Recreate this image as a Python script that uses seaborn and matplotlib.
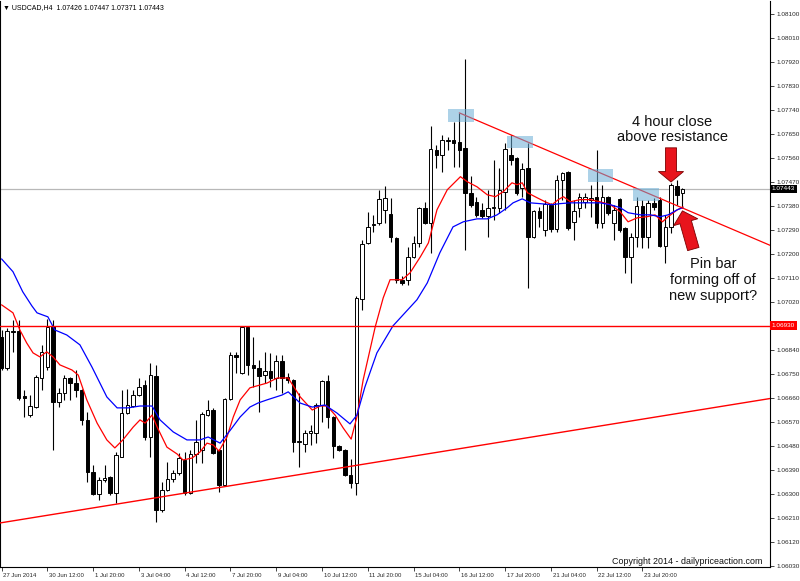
import numpy as np
import matplotlib
matplotlib.use("Agg")
import matplotlib.pyplot as plt
import matplotlib.transforms as mtransforms
from matplotlib.patches import Rectangle
import seaborn as sns

# USDCAD H4 candles, 27 Jun 2014 - 25 Jul 2014 (bar index 0..119)
opens = [
    1.06889, 1.06773, 1.06911, 1.06911, 1.06668, 1.06596, 1.06626, 1.06735, 1.06776, 1.06930,
    1.06645, 1.06679, 1.06735, 1.06716, 1.06690, 1.06578, 1.06383, 1.06300, 1.06353, 1.06364,
    1.06304, 1.06439, 1.06604, 1.06630, 1.06671, 1.06709, 1.06514, 1.06743, 1.06240, 1.06315,
    1.06356, 1.06379, 1.06428, 1.06304, 1.06450, 1.06465, 1.06596, 1.06615, 1.06465, 1.06334,
    1.06656, 1.06821, 1.06754, 1.06926, 1.06784, 1.06773, 1.06746, 1.06761, 1.06735, 1.06799,
    1.06739, 1.06728, 1.06495, 1.06488, 1.06529, 1.06529, 1.06634, 1.06724, 1.06589, 1.06480,
    1.06465, 1.06371, 1.06341, 1.07031, 1.07241, 1.07309, 1.07316, 1.07365, 1.07350, 1.07260,
    1.07103, 1.07103, 1.07189, 1.07241, 1.07373, 1.07316, 1.07590, 1.07571, 1.07624, 1.07628,
    1.07620, 1.07598, 1.07429, 1.07395, 1.07365, 1.07343, 1.07373, 1.07373, 1.07433, 1.07571,
    1.07560, 1.07448, 1.07523, 1.07264, 1.07361, 1.07290, 1.07384, 1.07294, 1.07478, 1.07508,
    1.07320, 1.07373, 1.07395, 1.07403, 1.07414, 1.07316, 1.07414, 1.07316, 1.07406, 1.07298,
    1.07189, 1.07264, 1.07380, 1.07264, 1.07391, 1.07403, 1.07230, 1.07301, 1.07455, 1.07426,
]
highs = [
    1.06915, 1.06923, 1.06953, 1.06953, 1.06690, 1.06671, 1.06746, 1.06859, 1.06956, 1.06953,
    1.06698, 1.06746, 1.06739, 1.06765, 1.06694, 1.06608, 1.06409, 1.06364, 1.06409, 1.06368,
    1.06458, 1.06690, 1.06694, 1.06690, 1.06735, 1.06728, 1.06791, 1.06784, 1.06345, 1.06420,
    1.06390, 1.06454, 1.06458, 1.06465, 1.06578, 1.06608, 1.06653, 1.06623, 1.06469, 1.06660,
    1.06833, 1.06833, 1.06930, 1.06930, 1.06889, 1.06803, 1.06833, 1.06829, 1.06821, 1.06821,
    1.06754, 1.06731, 1.06679, 1.06540, 1.06559, 1.06641, 1.06728, 1.06746, 1.06593, 1.06484,
    1.06469, 1.06431, 1.07043, 1.07253, 1.07358, 1.07346, 1.07440, 1.07455, 1.07410, 1.07264,
    1.07118, 1.07226, 1.07268, 1.07376, 1.07395, 1.07680, 1.07609, 1.07646, 1.07639, 1.07695,
    1.07729, 1.07928, 1.07493, 1.07414, 1.07391, 1.07440, 1.07553, 1.07523, 1.07616, 1.07646,
    1.07564, 1.07541, 1.07616, 1.07365, 1.07376, 1.07403, 1.07391, 1.07496, 1.07508, 1.07511,
    1.07403, 1.07429, 1.07429, 1.07459, 1.07590, 1.07459, 1.07418, 1.07384, 1.07410, 1.07301,
    1.07279, 1.07414, 1.07403, 1.07403, 1.07410, 1.07414, 1.07346, 1.07466, 1.07478, 1.07447,
]
lows = [
    1.06765, 1.06765, 1.06833, 1.06653, 1.06589, 1.06589, 1.06623, 1.06690, 1.06765, 1.06465,
    1.06626, 1.06653, 1.06653, 1.06664, 1.06559, 1.06345, 1.06296, 1.06278, 1.06345, 1.06296,
    1.06266, 1.06439, 1.06600, 1.06626, 1.06668, 1.06503, 1.06439, 1.06195, 1.06233, 1.06311,
    1.06345, 1.06371, 1.06296, 1.06300, 1.06416, 1.06416, 1.06593, 1.06450, 1.06308, 1.06330,
    1.06653, 1.06754, 1.06750, 1.06746, 1.06701, 1.06608, 1.06716, 1.06701, 1.06690, 1.06679,
    1.06716, 1.06458, 1.06401, 1.06458, 1.06484, 1.06491, 1.06570, 1.06548, 1.06435, 1.06461,
    1.06368, 1.06323, 1.06296, 1.06990, 1.07238, 1.07283, 1.07309, 1.07316, 1.07245, 1.07091,
    1.07084, 1.07084, 1.07185, 1.07226, 1.07313, 1.07204, 1.07523, 1.07508, 1.07590, 1.07526,
    1.07526, 1.07215, 1.07376, 1.07339, 1.07335, 1.07264, 1.07328, 1.07354, 1.07365, 1.07534,
    1.07421, 1.07414, 1.07073, 1.07260, 1.07301, 1.07268, 1.07283, 1.07283, 1.07403, 1.07290,
    1.07253, 1.07339, 1.07373, 1.07339, 1.07298, 1.07298, 1.07346, 1.07253, 1.07283, 1.07129,
    1.07091, 1.07226, 1.07223, 1.07223, 1.07365, 1.07226, 1.07166, 1.07279, 1.07384, 1.07371,
]
closes = [
    1.06773, 1.06911, 1.06908, 1.06660, 1.06660, 1.06630, 1.06739, 1.06833, 1.06926, 1.06645,
    1.06679, 1.06735, 1.06716, 1.06690, 1.06578, 1.06383, 1.06300, 1.06353, 1.06360, 1.06304,
    1.06446, 1.06604, 1.06634, 1.06671, 1.06701, 1.06514, 1.06746, 1.06240, 1.06315, 1.06356,
    1.06379, 1.06435, 1.06304, 1.06450, 1.06495, 1.06600, 1.06615, 1.06454, 1.06334, 1.06656,
    1.06821, 1.06814, 1.06926, 1.06784, 1.06773, 1.06743, 1.06761, 1.06735, 1.06799, 1.06735,
    1.06728, 1.06495, 1.06499, 1.06529, 1.06536, 1.06634, 1.06724, 1.06589, 1.06480, 1.06465,
    1.06371, 1.06341, 1.07035, 1.07238, 1.07301, 1.07313, 1.07406, 1.07410, 1.07264, 1.07103,
    1.07091, 1.07189, 1.07241, 1.07373, 1.07316, 1.07594, 1.07571, 1.07628, 1.07628, 1.07616,
    1.07590, 1.07429, 1.07384, 1.07346, 1.07343, 1.07373, 1.07376, 1.07440, 1.07594, 1.07553,
    1.07429, 1.07519, 1.07264, 1.07361, 1.07335, 1.07388, 1.07294, 1.07478, 1.07504, 1.07298,
    1.07361, 1.07414, 1.07414, 1.07410, 1.07316, 1.07414, 1.07354, 1.07365, 1.07290, 1.07189,
    1.07264, 1.07380, 1.07264, 1.07391, 1.07376, 1.07230, 1.07301, 1.07459, 1.07421, 1.07443,
]

# moving averages (bar index, price)
red_x = [0.0, 2.0, 3.2, 4.4, 5.5, 6.7, 7.9, 9.0, 10.2, 12.3, 13.4, 14.9, 16.7, 18.4, 19.8, 21.2,
         23.0, 24.2, 25.1, 26.3, 27.2, 28.9, 30.7, 31.7, 33.3, 34.7, 35.9, 37.0, 38.0, 39.4, 40.5,
         41.7, 43.4, 46.4, 48.2, 50.1, 52.2, 54.3, 55.7, 56.9, 58.3, 59.7, 61.1, 62.1, 63.2, 65.3,
         66.7, 67.9, 70.0, 71.4, 73.2, 74.6, 76.1, 77.9, 80.2, 81.4, 83.1, 84.9, 86.3, 87.7, 89.2,
         90.1, 91.0, 91.9, 93.6, 95.0, 96.2, 97.3, 98.2, 99.4, 101.1, 102.9, 104.6, 106.4, 108.1,
         109.5, 111.1, 112.8, 114.2, 115.5, 116.5, 118.1, 119.1]
red_y = [1.07009, 1.06979, 1.06915, 1.06866, 1.06829, 1.06814, 1.06833, 1.06814, 1.06784, 1.06765,
         1.06746, 1.06653, 1.06566, 1.06503, 1.06473, 1.06503, 1.06551, 1.06578, 1.06566, 1.06596,
         1.06551, 1.06476, 1.06450, 1.06428, 1.06435, 1.06458, 1.06491, 1.06484, 1.06461, 1.06514,
         1.06589, 1.06653, 1.06698, 1.06716, 1.06735, 1.06735, 1.06664, 1.06615, 1.06630, 1.06630,
         1.06596, 1.06548, 1.06506, 1.06589, 1.06728, 1.06926, 1.07035, 1.07103, 1.07103, 1.07129,
         1.07189, 1.07241, 1.07365, 1.07440, 1.07489, 1.07470, 1.07451, 1.07421, 1.07414, 1.07433,
         1.07466, 1.07459, 1.07466, 1.07429, 1.07410, 1.07395, 1.07384, 1.07403, 1.07414, 1.07395,
         1.07403, 1.07403, 1.07395, 1.07384, 1.07358, 1.07320, 1.07335, 1.07339, 1.07346, 1.07320,
         1.07339, 1.07365, 1.07376]
blue_x = [0.0, 2.0, 3.7, 5.3, 6.2, 7.2, 8.1, 9.3, 11.4, 13.7, 15.8, 18.4, 20.2, 22.1, 24.2, 26.3,
          27.7, 30.0, 32.4, 34.7, 36.1, 38.2, 40.0, 41.7, 43.4, 44.8, 46.4, 49.0, 50.1, 52.2, 54.3,
          56.5, 58.6, 60.9, 62.1, 63.5, 65.6, 68.4, 72.6, 74.4, 76.6, 78.9, 80.7, 83.1, 84.9, 86.6,
          88.4, 89.4, 91.0, 92.4, 94.1, 96.2, 97.6, 99.4, 101.1, 102.9, 104.6, 106.4, 108.1, 109.5,
          111.6, 113.4, 115.1, 116.5, 118.1, 119.1]
blue_y = [1.07181, 1.07133, 1.07058, 1.07005, 1.06979, 1.06971, 1.06964, 1.06915, 1.06896, 1.06859,
          1.06776, 1.06664, 1.06623, 1.06623, 1.06630, 1.06630, 1.06578, 1.06533, 1.06503, 1.06503,
          1.06514, 1.06491, 1.06540, 1.06589, 1.06626, 1.06641, 1.06653, 1.06671, 1.06683, 1.06641,
          1.06626, 1.06634, 1.06604, 1.06563, 1.06596, 1.06701, 1.06829, 1.06930, 1.07028, 1.07091,
          1.07204, 1.07301, 1.07320, 1.07331, 1.07331, 1.07346, 1.07373, 1.07391, 1.07406, 1.07391,
          1.07388, 1.07384, 1.07388, 1.07391, 1.07391, 1.07391, 1.07391, 1.07384, 1.07373, 1.07354,
          1.07346, 1.07346, 1.07339, 1.07346, 1.07365, 1.07373]

# highlighted highs (bar index range, price range)
box_x0 = [78.1, 88.4, 102.5, 110.4]
box_x1 = [82.6, 92.9, 106.9, 114.9]
box_lo = [1.07694, 1.07597, 1.07469, 1.07398]
box_hi = [1.07743, 1.07642, 1.07518, 1.07447]

resistance_level = 1.06930
bid_price = 1.07443
down_trend = ([80.0, 134.3], [1.07728, 1.07232])
up_trend = ([-0.27, 134.3], [1.06192, 1.06658])

tick_idx = list(range(0, 113, 8))
tick_lbl = ["27 Jun 2014", "30 Jun 12:00", "1 Jul 20:00", "3 Jul 04:00", "4 Jul 12:00",
            "7 Jul 20:00", "9 Jul 04:00", "10 Jul 12:00", "11 Jul 20:00", "15 Jul 04:00",
            "16 Jul 12:00", "17 Jul 20:00", "21 Jul 04:00", "22 Jul 12:00", "23 Jul 20:00"]
price_ticks = [round(1.0603 + 0.0009 * k, 5) for k in range(24)]

sns.set_style("white")
plt.rcParams['font.family'] = ['Liberation Sans', 'DejaVu Sans']

fig = plt.figure(figsize=(8, 5.81), dpi=100)
ax = fig.add_axes([0.0, 14 / 581, 770 / 800, 566 / 581])
ax.set_xlim(-0.27, 134.3)
ax.set_ylim(1.06027, 1.08147)

o = np.array(opens); h = np.array(highs); l = np.array(lows); c = np.array(closes)
idx = np.arange(len(o))
bull = c >= o

ax.vlines(idx, l, h, color='black', lw=0.8, zorder=2)
ax.bar(idx, np.abs(c - o), bottom=np.minimum(o, c), width=0.62,
       color=np.where(bull, 'white', 'black'), edgecolor='black', linewidth=0.7, zorder=3)

sns.lineplot(x=red_x, y=red_y, ax=ax, color='#ff0000', lw=0.9, sort=False, estimator=None, zorder=4)
sns.lineplot(x=blue_x, y=blue_y, ax=ax, color='#0000ff', lw=0.9, sort=False, estimator=None, zorder=4)

ax.axhline(bid_price, color='#b8b8b8', lw=0.9, zorder=1)
ax.axhline(resistance_level, color='#ff0000', lw=1.0, zorder=4)
ax.plot(*down_trend, color='#ff0000', lw=0.9, zorder=4)
ax.plot(*up_trend, color='#ff0000', lw=1.0, zorder=4)

for x0, x1, lo, hi in zip(box_x0, box_x1, box_lo, box_hi):
    ax.add_patch(Rectangle((x0, lo), x1 - x0, hi - lo, facecolor='#6baed6',
                           edgecolor='none', alpha=0.55, zorder=5))

# arrows
ax.annotate('', xy=(117.0, 1.07469), xytext=(117.0, 1.07597),
            arrowprops=dict(arrowstyle='simple,head_length=0.75,head_width=1.8,tail_width=0.8',
                            mutation_scale=10, fc='#e8141c', ec='#7a0000', lw=0.6,
                            shrinkA=0, shrinkB=0), zorder=6)
ax.annotate('', xy=(119.0, 1.07361), xytext=(120.9, 1.07218),
            arrowprops=dict(arrowstyle='simple,head_length=0.85,head_width=1.8,tail_width=0.85',
                            mutation_scale=10, fc='#e8141c', ec='#7a0000', lw=0.6,
                            shrinkA=0, shrinkB=0), zorder=6)

ax.text(117.2, 1.07665, "4 hour close\nabove resistance", ha='center', va='center',
        fontsize=10.5, linespacing=1.1, color='#111111', zorder=7)
ax.text(124.4, 1.07103, "Pin bar\nforming off of\nnew support?", ha='center', va='center',
        fontsize=10.5, linespacing=1.2, color='#111111', zorder=7)
ax.text(0.9896, 0.0106, "Copyright 2014 - dailypriceaction.com", transform=ax.transAxes,
        ha='right', va='center', fontsize=6.4, color='#111111')
ax.text(0.004, 0.9876, "\u25bc USDCAD,H4  1.07426 1.07447 1.07371 1.07443", transform=ax.transAxes,
        ha='left', va='center', fontsize=5, color='black')

# axes styling like the trading terminal
for side in ['left', 'right', 'bottom']:
    ax.spines[side].set_visible(True)
    ax.spines[side].set_color('black')
    ax.spines[side].set_linewidth(0.8)
ax.spines['top'].set_visible(False)

ax.yaxis.tick_right()
ax.set_yticks(price_ticks)
# the 1.06930 level is shown by its red price tag instead of a plain label
ax.set_yticklabels(["" if abs(p - resistance_level) < 1e-6 else f"{p:.5f}" for p in price_ticks])
ax.tick_params(axis='y', which='major', right=True, left=False, length=3, width=0.6,
               pad=2, labelsize=4.6, direction='out')
ax.set_xticks(tick_idx)
ax.set_xticklabels(tick_lbl)
ax.tick_params(axis='x', which='major', bottom=True, length=3, width=0.6, pad=1.5,
               labelsize=4.3, direction='out')
shift = mtransforms.ScaledTranslation(1.2 / 72, 0, fig.dpi_scale_trans)
for lbl in ax.get_xticklabels():
    lbl.set_horizontalalignment('left')
    lbl.set_transform(lbl.get_transform() + shift)
ax.set_xlabel('')
ax.set_ylabel('')

tag = ax.get_yaxis_transform()
ax.text(1.002, resistance_level, "1.06930", transform=tag, ha='left', va='center', fontsize=4.6,
        color='white', clip_on=False, zorder=8,
        bbox=dict(boxstyle='square,pad=0.3', fc='#ff0000', ec='none'))
ax.text(1.002, bid_price, "1.07443", transform=tag, ha='left', va='center', fontsize=4.6,
        color='white', clip_on=False, zorder=8,
        bbox=dict(boxstyle='square,pad=0.3', fc='black', ec='none'))

fig.savefig("out.png", dpi=100, facecolor='white')
